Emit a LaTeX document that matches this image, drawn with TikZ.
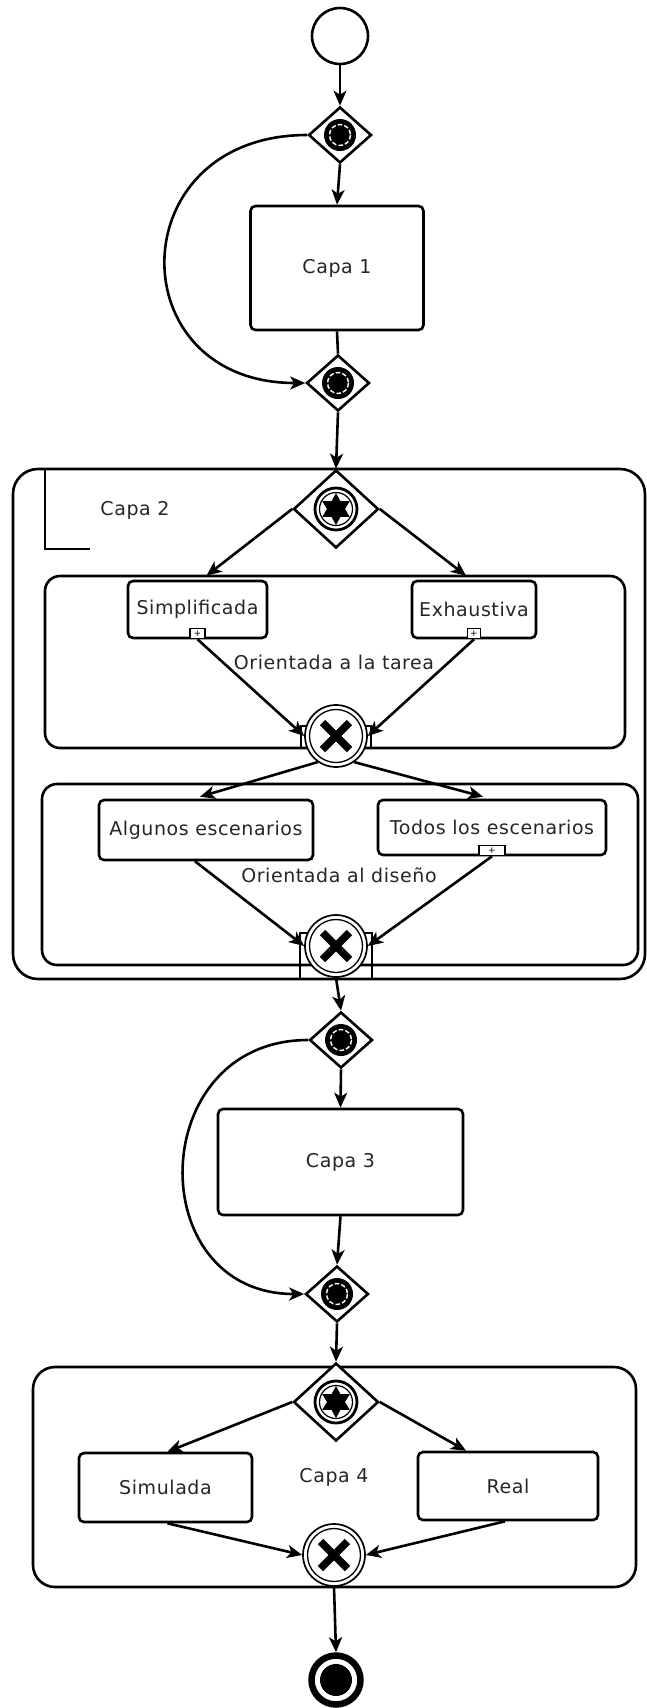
\documentclass[tikz,border=0pt]{standalone}
\usepackage{fontspec}
\setmainfont{DejaVu Sans}[LetterSpace=3]
\usetikzlibrary{shapes.geometric,arrows.meta,calc}
\begin{document}
\begin{tikzpicture}[x=1pt,y=-1pt,line width=2.6pt,
  lbl/.style={font=\fontsize{19}{23}\selectfont, text=black!85, inner sep=0pt},
  task/.style={draw, rounded corners=5pt, fill=white, inner sep=0pt, lbl},
  mk/.style={draw, line width=1.6pt, fill=white, inner sep=0pt, minimum height=10pt,
    font=\fontsize{9}{9}\selectfont},
  gwsmall/.style={diamond, draw, fill=white, inner sep=0pt, minimum width=63pt, minimum height=56pt},
  gwlarge/.style={diamond, draw, fill=white, inner sep=0pt, minimum width=85pt, minimum height=78pt},
  xgw/.style={circle, draw, line width=1.7pt, fill=white, inner sep=0pt, minimum size=62pt},
  arr/.style={-{Stealth[length=15pt,width=13pt,inset=4pt]}},
  evsmall/.pic={\fill (0,0) circle (16);
    \draw[white, line width=1.4pt, dash pattern=on 4.5pt off 2.2pt] (0,0) circle (10.5);},
  evlarge/.pic={\draw[line width=2.8pt] (0,0) circle (21);
    \draw[line width=1.2pt] (0,0) circle (16.5);
    \fill (90:16) -- (120:9) -- (150:16) -- (180:9) -- (210:16) -- (240:9) -- (270:16)
      -- (300:9) -- (330:16) -- (0:9) -- (30:16) -- (60:9) -- cycle;},
  xmark/.pic={\draw[line width=1.3pt] (0,0) circle (26.5);
    \draw[line width=7.5pt] (-13.5,-13.5) -- (13.5,13.5) (-13.5,13.5) -- (13.5,-13.5);}
]
\useasboundingbox (0,0) rectangle (647,1708);

% pools and lanes
\draw[rounded corners=25pt] (13,469) rectangle (645,979);
\draw (45,469) -- (45,549) -- (90,549);
\draw[rounded corners=15pt] (45,576) rectangle (625,748);
\draw[rounded corners=15pt] (42,784) rectangle (638,965);
\draw[rounded corners=22pt] (33,1367) rectangle (636,1587);
% attachment frames behind the merge gateways
\draw[line width=1.8pt] (301,726) rectangle (371,748);
\draw[line width=1.8pt] (300,933) rectangle (372,979);

% start
\node[circle, draw, fill=white, minimum size=56pt, inner sep=0pt] (start) at (340,36) {};

% layer 1
\node[gwsmall] (g1) at (340,135) {};
\pic at (g1) {evsmall};
\node[task, minimum width=173pt, minimum height=124pt] (cap1) at (337,268) {Capa 1};
\node[gwsmall] (g2) at (338,383) {};
\pic at (g2) {evsmall};

% layer 2
\node[gwlarge] (g3) at (336,509) {};
\pic at (g3) {evlarge};
\node[lbl] (lcap2) at (135,510) {Capa 2};
\node[task, minimum width=139pt, minimum height=57pt] (simp) at (197.5,609.5) {Simplificada};
\node[task, minimum width=124pt, minimum height=57pt] (exh) at (474,609.5) {Exhaustiva};
\node[mk, minimum width=15pt, anchor=south] (msimp) at (simp.south) {+};
\node[mk, minimum width=13pt, anchor=south] (mexh) at (exh.south) {+};
\node[lbl] (ltarea) at (334,662) {Orientada a la tarea};
\node[xgw] (x1) at (336,736) {};
\pic at (x1) {xmark};

\node[task, minimum width=214pt, minimum height=60pt] (alg) at (206,830) {Algunos escenarios};
\node[task, minimum width=228pt, minimum height=55pt] (todos) at (492,827.5) {Todos los escenarios};
\node[mk, minimum width=26pt, anchor=south] (mtodos) at (todos.south) {+};
\node[lbl] (ldis) at (339,875) {Orientada al diseño};
\node[xgw] (x2) at (336,946) {};
\pic at (x2) {xmark};

% layer 3
\node[gwsmall] (g4) at (341,1040) {};
\pic at (g4) {evsmall};
\node[task, minimum width=245pt, minimum height=106pt] (cap3) at (340.5,1162) {Capa 3};
\node[gwsmall] (g5) at (337,1294) {};
\pic at (g5) {evsmall};

% layer 4
\node[gwlarge] (g6) at (336,1402) {};
\pic at (g6) {evlarge};
\node[lbl] (lcap4) at (334,1477) {Capa 4};
\node[task, minimum width=173pt, minimum height=69pt] (sim) at (165.5,1487.5) {Simulada};
\node[task, minimum width=180pt, minimum height=68pt] (real) at (508,1486) {Real};
\node[xgw] (x3) at (334,1555) {};
\pic at (x3) {xmark};

% end
\node[circle, draw, line width=6.5pt, fill=white, minimum size=49pt, inner sep=0pt] (end) at (336,1680) {};
\fill (end.center) circle (16);

% flows
\draw[arr] (start) -- (g1);
\draw[arr] (g1.south) -- (cap1.north);
\draw (cap1.south) -- (g2.north);
\draw[arr] (g1.west) to[out=180,in=180,looseness=1.93] (g2.west);
\draw[arr] (g2.south) -- (g3.north);

\draw[arr] (g3.west) -- ($(simp.north)+(9,-4)$);
\draw[arr] (g3.east) -- ($(exh.north)+(-8,-4)$);
\draw[arr] (msimp.south) -- (x1.west);
\draw[arr] (mexh.south) -- (x1.east);

\draw[arr] (x1.235) -- ($(alg.north)+(-6,-2)$);
\draw[arr] (x1.-55) -- ($(todos.north)+(-9,-2)$);
\draw[arr] ($(alg.south)+(-11,0)$) -- (x2.west);
\draw[arr] (mtodos.south) -- (x2.east);

\draw[arr] (x2.south) -- (g4.north);
\draw[arr] (g4.south) -- (cap3.north);
\draw[arr] (cap3.south) -- (g5.north);
\draw[arr] (g4.west) to[out=180,in=180,looseness=1.64] (g5.west);
\draw[arr] (g5.south) -- (g6.north);

\draw[arr] (g6.west) -- ($(sim.north)+(2,0)$);
\draw[arr] (g6.east) -- ($(real.north)+(-42,0)$);
\draw[arr] ($(sim.south)+(2,0)$) -- (x3.west);
\draw[arr] ($(real.south)+(-3,0)$) -- (x3.east);
\draw[arr] (x3.south) -- (end.north);
\end{tikzpicture}
\end{document}
